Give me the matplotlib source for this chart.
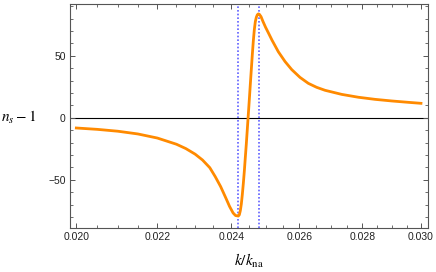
import matplotlib
matplotlib.use('Agg')
import matplotlib.pyplot as plt
from matplotlib.ticker import FixedLocator, FormatStrFormatter, MultipleLocator, NullFormatter
import numpy as np

# values
k = [0.02000, 0.02050, 0.02100, 0.02150, 0.02200, 0.02250, 0.02275, 0.02300,
     0.02320, 0.02340, 0.02355, 0.02370, 0.02385, 0.02395, 0.02405, 0.02412,
     0.024199, 0.024228, 0.024256, 0.024285, 0.024313, 0.024342, 0.024371,
     0.024399, 0.024428, 0.024457, 0.024486, 0.024515, 0.024543, 0.024572,
     0.024601, 0.024630, 0.024659, 0.024688, 0.024717, 0.024746, 0.024775,
     0.024805, 0.024854, 0.024913, 0.024986, 0.025069, 0.025178, 0.025365,
     0.025566, 0.025768, 0.026021, 0.026277, 0.026535, 0.026798, 0.027330,
     0.027869, 0.028422, 0.028986, 0.029557, 0.030000]
ns_minus_1 = [-8.3, -9.4, -10.9, -13.1, -16.4, -21.4, -24.9, -29.4,
              -34.1, -40.3, -47.5, -55.5, -65.0, -71.5, -76.8, -78.9,
              -79.3, -78.3, -75.0, -69.5, -62.0, -53.0, -43.0,
              -32.0, -21.0, -9.0, 3.0, 15.0, 27.0, 39.0,
              51.0, 62.0, 71.0, 77.5, 81.0, 83.0, 83.7,
              83.4, 81.5, 77.5, 73.0, 68.5, 62.5, 53.2,
              45.3, 38.8, 32.5, 27.7, 24.5, 22.1, 18.8,
              16.5, 14.8, 13.5, 12.4, 11.6]
resonances = [0.0242, 0.0248]
xticks = [0.020, 0.022, 0.024, 0.026, 0.028, 0.030]
yticks = [-50, 0, 50]

plt.rcParams['font.family'] = ['Liberation Sans', 'DejaVu Sans']
plt.rcParams['mathtext.fontset'] = 'stix'

fig = plt.figure(figsize=(4.36, 2.72), dpi=100)
ax = fig.add_axes([0.1606, 0.1629, 0.8204, 0.8224])

ax.axhline(0, color='black', lw=0.8, zorder=1)
for x0 in resonances:
    ax.axvline(x0, color='#6060ff', lw=1.2, ls=(0, (1, 1.2)), zorder=2)
ax.plot(k, ns_minus_1, color='#ff8a00', lw=2, solid_joinstyle='round', zorder=3)

ax.set_xscale('log')
ax.set_xlim(0.019852, 0.030239)
ax.set_ylim(-88.7, 91.7)

ax.xaxis.set_major_locator(FixedLocator(xticks))
ax.xaxis.set_major_formatter(FormatStrFormatter('%.3f'))
ax.xaxis.set_minor_locator(FixedLocator(np.arange(0.0195, 0.0305, 0.0005)))
ax.xaxis.set_minor_formatter(NullFormatter())
ax.yaxis.set_major_locator(FixedLocator(yticks))
ax.yaxis.set_minor_locator(MultipleLocator(10))

for s in ax.spines.values():
    s.set_color('#555555')
    s.set_linewidth(0.8)
ax.tick_params(which='both', direction='in', top=True, right=True,
               color='#555555', labelcolor='#222222', labelsize=7.5, pad=3)
ax.tick_params(which='major', length=3.5, width=0.7)
ax.tick_params(which='minor', length=2, width=0.6)

ax.set_xlabel(r'$k/k_{\rm na}$', fontsize=11, va='center')
ax.xaxis.set_label_coords(0.5, -0.149)
ax.set_ylabel(r'$n_s-1$', fontsize=11, rotation=0, ha='center', va='center')
ax.yaxis.set_label_coords(-0.144, 0.4917)

fig.savefig('out.png', dpi=100)
